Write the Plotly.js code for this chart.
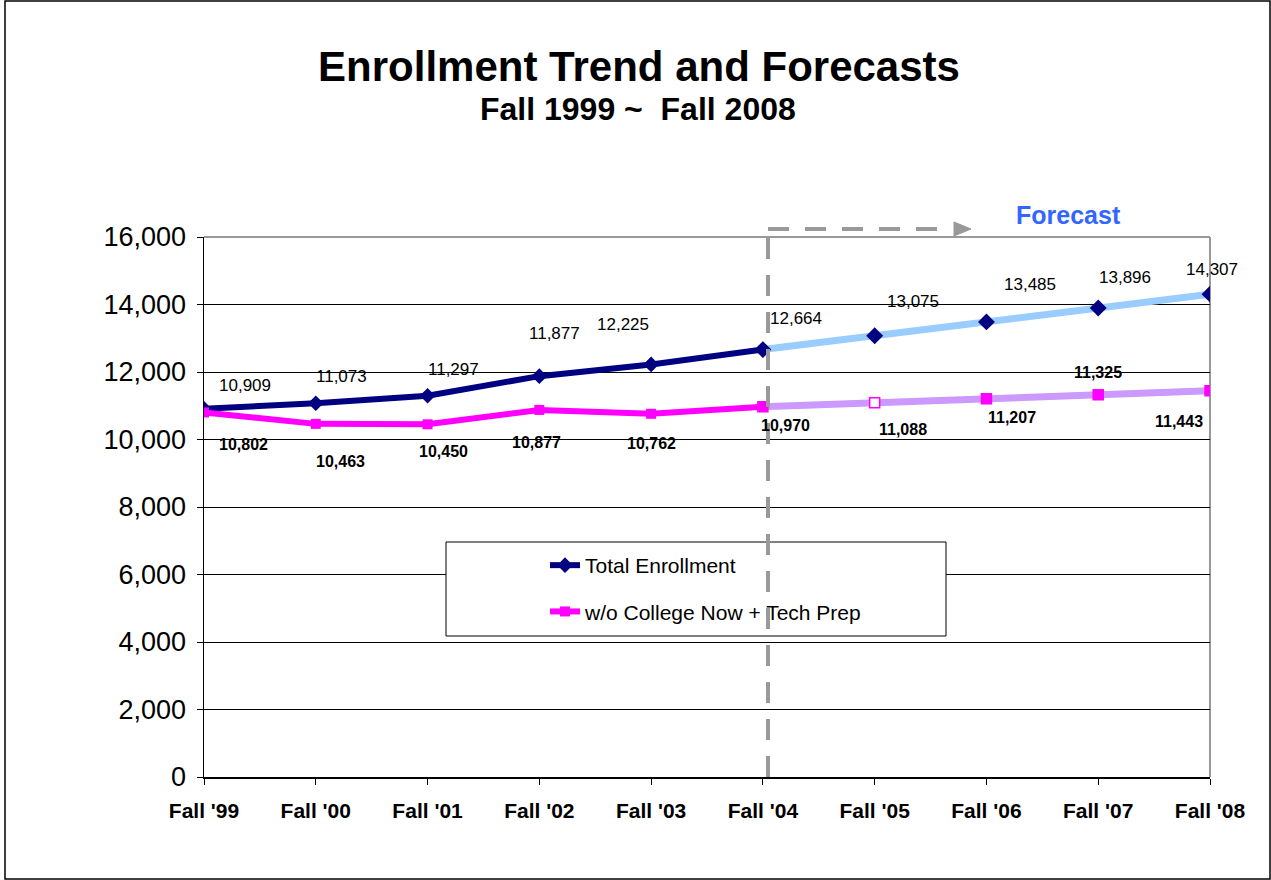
<!DOCTYPE html>
<html>
<head>
<meta charset="utf-8">
<script src="https://cdn.plot.ly/plotly-3.0.1.min.js"></script>
<style>html,body{margin:0;padding:0;background:#fff;}#chart{width:1271px;height:880px;}</style>
</head>
<body>
<div id="chart"></div>
<script>
// ---- data ----
var categories = ["Fall '99", "Fall '00", "Fall '01", "Fall '02", "Fall '03", "Fall '04", "Fall '05", "Fall '06", "Fall '07", "Fall '08"];
var totalEnrollment = [10909, 11073, 11297, 11877, 12225, 12664, 13075, 13485, 13896, 14307];
var withoutCNTP = [10802, 10463, 10450, 10877, 10762, 10970, 11088, 11207, 11325, 11443];
var forecastStart = 5; // index of Fall '04, last actual value
var yTickVals = [0, 2000, 4000, 6000, 8000, 10000, 12000, 14000, 16000];

// label placement (pixel offsets from the point)
var totalLabelShift = [[41, 23], [26, 27], [26, 26], [15, 43], [-28, 40], [33, 31], [38, 34], [44, 37], [27, 31], [2, 25]];
var cntpLabelShift = [[39, -32], [25, -38], [16, -27], [-3, -33], [0, -30], [23, -19], [28, -27], [26, -19], [0, 22], [-31, -31]];

var FONT = "Liberation Sans, Arial, sans-serif";
var L = 204, R = 1210, T = 237, B = 777, W = 1271, H = 880;
function px(x) { return (x - L) / (R - L); }
function py(y) { return (B - y) / (B - T); }

var histCats = categories.slice(0, forecastStart + 1);
var fcCats = categories.slice(forecastStart);

var traces = [
  {
    x: fcCats, y: totalEnrollment.slice(forecastStart), type: 'scatter', mode: 'lines+markers',
    line: {color: '#99CCFF', width: 7}, marker: {symbol: 'diamond', size: 13, color: '#000080'},
    showlegend: false, hoverinfo: 'skip'
  },
  {
    x: fcCats, y: withoutCNTP.slice(forecastStart), type: 'scatter', mode: 'lines+markers',
    line: {color: '#CC99FF', width: 7},
    marker: {symbol: 'square', size: 10,
      color: withoutCNTP.slice(forecastStart).map(function (v, i) { return i === 1 ? '#FFFFFF' : '#FF00FF'; }),
      line: {color: '#FF00FF', width: 1.5}},
    showlegend: false, hoverinfo: 'skip'
  },
  {
    name: 'Total Enrollment', legendgroup: 'a',
    x: histCats, y: totalEnrollment.slice(0, forecastStart + 1), type: 'scatter', mode: 'lines+markers',
    line: {color: '#000080', width: 6}, marker: {symbol: 'diamond', size: 12, color: '#000080'}
  },
  {
    name: 'w/o College Now + Tech Prep', legendgroup: 'b',
    x: histCats, y: withoutCNTP.slice(0, forecastStart + 1), type: 'scatter', mode: 'lines+markers',
    line: {color: '#FF00FF', width: 6}, marker: {symbol: 'square', size: 10, color: '#FF00FF'}
  }
];

var annotations = [];
for (var i = 0; i < categories.length; i++) {
  annotations.push({
    x: categories[i], y: totalEnrollment[i], xref: 'x', yref: 'y', showarrow: false,
    text: totalEnrollment[i].toLocaleString('en-US'),
    xshift: totalLabelShift[i][0], yshift: totalLabelShift[i][1],
    font: {family: FONT, size: 17, color: '#000'}
  });
  annotations.push({
    x: categories[i], y: withoutCNTP[i], xref: 'x', yref: 'y', showarrow: false,
    text: '<b>' + withoutCNTP[i].toLocaleString('en-US') + '</b>',
    xshift: cntpLabelShift[i][0], yshift: cntpLabelShift[i][1],
    font: {family: FONT, size: 16, color: '#000'}
  });
}
annotations.push({
  x: px(638), y: py(109), xref: 'paper', yref: 'paper', showarrow: false,
  text: '<b>Fall 1999 ~  Fall 2008</b>', font: {family: FONT, size: 32, color: '#000'},
  xanchor: 'center', yanchor: 'middle'
});
annotations.push({
  x: px(1068), y: py(215), xref: 'paper', yref: 'paper', showarrow: false,
  text: '<b>Forecast</b>', font: {family: FONT, size: 25, color: '#3366FF'},
  xanchor: 'center', yanchor: 'middle'
});

var shapes = [
  // outer chart border
  {type: 'rect', xref: 'paper', yref: 'paper', x0: px(5), x1: px(1270), y0: py(879), y1: py(1),
   line: {color: '#000', width: 1.5}, fillcolor: 'rgba(0,0,0,0)', layer: 'below'},
  // right frame line
  {type: 'line', xref: 'paper', yref: 'paper', x0: 1, x1: 1, y0: 0, y1: 1,
   line: {color: '#999999', width: 2}, layer: 'below'},
  // top frame line
  {type: 'line', xref: 'paper', yref: 'paper', x0: 0, x1: 1, y0: 1, y1: 1,
   line: {color: '#999999', width: 2}, layer: 'above'},
  // legend box
  {type: 'rect', xref: 'paper', yref: 'paper', x0: px(446), x1: px(946), y0: py(636), y1: py(542),
   line: {color: '#000', width: 1}, fillcolor: '#FFFFFF', layer: 'above'},
  // vertical dashed forecast line
  {type: 'line', xref: 'paper', yref: 'paper', x0: px(768), x1: px(768), y0: 0, y1: py(228),
   line: {color: '#999999', width: 4, dash: '21px,16px'}, layer: 'above'},
  // horizontal dashed arrow
  {type: 'line', xref: 'paper', yref: 'paper', x0: px(768), x1: px(952), y0: py(229), y1: py(229),
   line: {color: '#999999', width: 4, dash: '21px,16px'}, layer: 'above'},
  {type: 'path', xref: 'paper', yref: 'paper',
   path: 'M ' + px(954) + ' ' + py(222) + ' L ' + px(971) + ' ' + py(229) + ' L ' + px(954) + ' ' + py(236) + ' Z',
   line: {color: '#999999', width: 1}, fillcolor: '#999999', layer: 'above'}
];

var layout = {
  width: W, height: H,
  margin: {l: L, r: W - R, t: T, b: H - B, pad: 0},
  paper_bgcolor: '#FFFFFF', plot_bgcolor: '#FFFFFF',
  font: {family: FONT, color: '#000'},
  separators: '.,',
  title: {
    text: '<b>Enrollment Trend and Forecasts</b>',
    font: {family: FONT, size: 42, color: '#000'},
    x: 639 / W, xref: 'container', xanchor: 'center',
    y: 1 - 66 / H, yref: 'container', yanchor: 'middle'
  },
  xaxis: {
    type: 'category', categoryorder: 'array', categoryarray: categories,
    range: [0, categories.length - 1],
    showgrid: false, zeroline: false,
    showline: true, linecolor: '#000', linewidth: 1.5,
    ticks: 'outside', ticklen: 6, tickcolor: '#000', tickwidth: 1,
    ticklabelstandoff: 8,
    tickfont: {family: FONT, size: 21, color: '#000', weight: 'bold'}
  },
  yaxis: {
    range: [0, 16000], tickvals: yTickVals, tickformat: ',d',
    showgrid: true, gridcolor: '#000', gridwidth: 1,
    zeroline: false,
    showline: true, linecolor: '#000', linewidth: 1.5,
    ticks: 'outside', ticklen: 6, tickcolor: '#000', tickwidth: 1,
    ticklabelstandoff: 5,
    tickfont: {family: FONT, size: 27, color: '#000'}
  },
  showlegend: true,
  legend: {
    x: px(545), y: py(545), xanchor: 'left', yanchor: 'top',
    bgcolor: 'rgba(0,0,0,0)', borderwidth: 0,
    traceorder: 'grouped', tracegroupgap: 16,
    font: {family: FONT, size: 21, color: '#000'}
  },
  annotations: annotations,
  shapes: shapes
};

Plotly.newPlot('chart', traces, layout, {displayModeBar: false, staticPlot: true});
</script>
</body>
</html>
